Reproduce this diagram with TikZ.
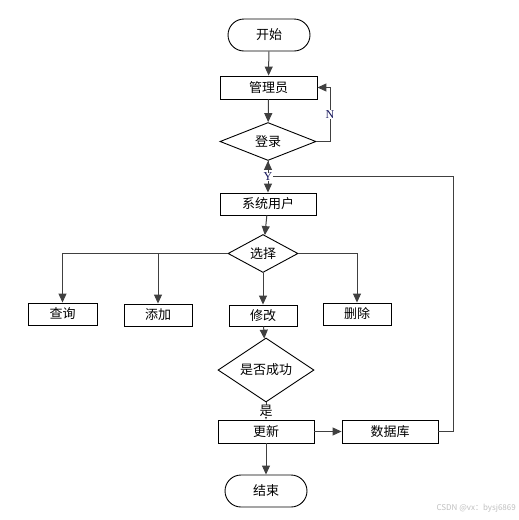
\documentclass[tikz,border=0pt]{standalone}
\usepackage{fontspec}
\setmainfont{Noto Sans CJK SC}
\newfontfamily\latinserif{Liberation Serif}
\newfontfamily\wmfont{Noto Sans CJK SC}
\usetikzlibrary{shapes.geometric,arrows.meta}
\definecolor{lblblue}{RGB}{20,20,90}
\begin{document}
\begin{tikzpicture}[x=1pt,y=-1pt,
  every node/.style={font=\fontsize{13}{15}\selectfont, inner sep=0pt},
  box/.style={draw=black, line width=0.9pt, rectangle, fill=white},
  term/.style={draw=black, line width=0.9pt, rounded corners=16pt, fill=white},
  dia/.style={draw=black, line width=0.9pt, diamond, fill=white},
  arr/.style={draw=black!75, line width=1pt, -{Triangle[width=8pt,length=9pt]}},
  yn/.style={font=\latinserif\fontsize{12}{14}\selectfont, text=lblblue, fill=white, inner sep=0.5pt},
]
\useasboundingbox (0,0) rectangle (519,520);
% nodes
\node[term, minimum width=82, minimum height=32] (start) at (269,35) {开始};
\node[box, minimum width=97, minimum height=23] (admin) at (268.5,87.5) {管理员};
\node[dia, minimum width=96, minimum height=37] (login) at (268,141.5) {登录};
\node[box, minimum width=96, minimum height=22] (sys) at (268,204) {系统用户};
\node[dia, minimum width=70, minimum height=27] (choose) at (263,253.5) {选择};
\node[box, minimum width=69, minimum height=22] (q) at (62.5,314) {查询};
\node[box, minimum width=68, minimum height=22] (add) at (158,315) {添加};
\node[box, minimum width=68, minimum height=21] (mod) at (263,315.5) {修改};
\node[box, minimum width=68, minimum height=22] (del) at (357,314) {删除};
\node[dia, minimum width=96, minimum height=39] (succ) at (266,370) {是否成功};
\node[box, minimum width=96, minimum height=23] (upd) at (266,431.5) {更新};
\node[box, minimum width=96, minimum height=23] (db) at (390,431.5) {数据库};
\node[term, minimum width=82, minimum height=32] (end) at (266,491) {结束};
\coordinate (loopc) at (453,176);
\coordinate (ncorner) at (330,141.5);
% connectors
\draw[arr] (start) -- (admin);
\draw[arr] (admin) -- (login);
\draw[arr] (login.east) -- (ncorner) |- (admin.east) node[pos=0.25, yn] {N};
\draw[arr] (login) -- (sys);
\draw[arr] (db.east) -| (loopc) -- (login.south |- loopc) -- (login.south);
\node[yn] (ylbl) at (268,177) {Y};
\draw[arr] (sys) -- (choose);
\draw[arr] (choose.west) -| (q.north);
\draw[arr] (choose.west) -| (add.north);
\draw[arr] (choose) -- (mod);
\draw[arr] (choose.east) -| (del.north);
\draw[arr] (mod) -- (succ);
\draw[arr] (succ) -- (upd) node[pos=0.5, fill=white, inner sep=0.5pt] {是};
\draw[arr] (upd) -- (db);
\draw[arr] (upd) -- (end);
\node[font=\wmfont\fontsize{8}{9}\selectfont, text=black!25, anchor=east] (wm) at (516,508) {CSDN @vx：bysj6869};
\end{tikzpicture}
\end{document}
